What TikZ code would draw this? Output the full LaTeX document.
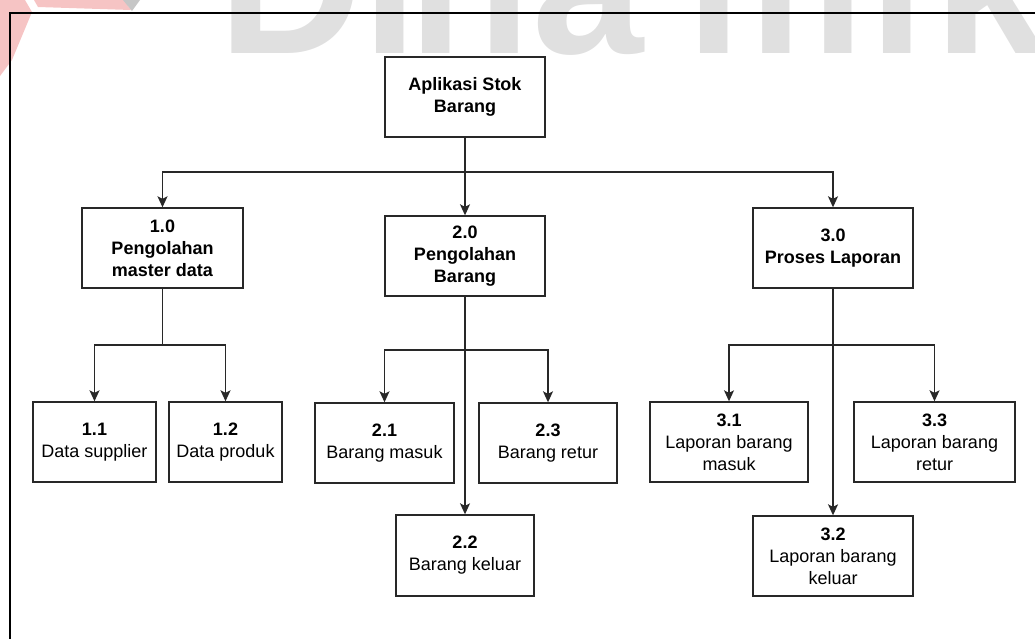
\documentclass[tikz,border=0pt]{standalone}
\usepackage{fontspec}
\setmainfont{Liberation Sans}
\usetikzlibrary{arrows.meta}
\definecolor{logored}{RGB}{246,196,196}
\definecolor{markgray}{RGB}{224,224,224}
\definecolor{edge}{RGB}{40,40,40}
\begin{document}
\begin{tikzpicture}[x=1pt,y=-1pt,
  box/.style={draw=edge, line width=1.4pt, fill=white, align=center,
    inner sep=0pt, font=\fontsize{18}{22}\selectfont},
  wire/.style={draw=edge, line width=1.4pt},
  link/.style={wire, -{Stealth[length=11pt,width=10pt,inset=2.5pt]}},
  frame/.style={draw=black, line width=2pt}]
\useasboundingbox (0,0) rectangle (1035,638);

% faint logo and lettering behind the chart
\begin{scope}
  \clip (0,0) rectangle (1035,638);
  \fill[logored] (0,0) -- (25,0) -- (32,12) -- (12,60) -- (0,76) -- cycle;
  \fill[logored] (34,0) -- (124,0) -- (131,10) -- (38,7) -- cycle;
  \fill[gray!45] (123,0) -- (140,0) -- (132,11) -- cycle;
  \foreach \ch/\xc in {D/291, i/390, n/470, a/588, m/775, i/897, k/990}
    \node[anchor=base, inner sep=0pt, text=markgray, text depth=0pt,
          font=\fontsize{200}{200}\selectfont\bfseries] at (\xc,53) {\ch};
\end{scope}

% outer frame
\draw[frame] (10,650) -- (10,13) -- (1050,13);

% level 0
\node[box, minimum width=160pt, minimum height=80pt] (root) at (465,97)
  {\textbf{Aplikasi Stok}\\\textbf{Barang}};

% level 1
\node[box, minimum width=161pt, minimum height=80pt] (n1) at (162.5,248)
  {\textbf{1.0}\\\textbf{Pengolahan}\\\textbf{master data}};
\node[box, minimum width=160pt, minimum height=80pt] (n2) at (465,256)
  {\textbf{2.0}\\\textbf{Pengolahan}\\\textbf{Barang}};
\node[box, minimum width=160pt, minimum height=80pt] (n3) at (833,248)
  {\textbf{3.0}\\\textbf{Proses Laporan}};

% level 2
\node[box, minimum width=123pt, minimum height=80pt] (n11) at (94.5,442)
  {\textbf{1.1}\\Data supplier};
\node[box, minimum width=113pt, minimum height=80pt] (n12) at (225.5,442)
  {\textbf{1.2}\\Data produk};
\node[box, minimum width=139pt, minimum height=80pt] (n21) at (384.5,443)
  {\textbf{2.1}\\Barang masuk};
\node[box, minimum width=138pt, minimum height=80pt] (n23) at (548,443)
  {\textbf{2.3}\\Barang retur};
\node[box, minimum width=138pt, minimum height=81pt] (n22) at (465,555.5)
  {\textbf{2.2}\\Barang keluar};
\node[box, minimum width=158pt, minimum height=80pt] (n31) at (729,442)
  {\textbf{3.1}\\Laporan barang\\masuk};
\node[box, minimum width=161pt, minimum height=80pt] (n33) at (934.5,442)
  {\textbf{3.3}\\Laporan barang\\retur};
\node[box, minimum width=160pt, minimum height=80pt] (n32) at (833,556)
  {\textbf{3.2}\\Laporan barang\\keluar};

% junction points of the tree
\coordinate (j0) at (465,172);
\coordinate (j1) at (162.5,345);
\coordinate (j2) at (465,350);
\coordinate (j3) at (833,345);

% connectors
\draw[wire] (root.south) -- (j0);
\draw[link] (j0) -| (n1.north);
\draw[link] (j0) -- (n2.north);
\draw[link] (j0) -| (n3.north);

\draw[wire] (n1.south) -- (j1);
\draw[link] (j1) -| (n11.north);
\draw[link] (j1) -| (n12.north);

\draw[link] (n2.south) -- (n22.north);
\draw[link] (j2) -| (n21.north);
\draw[link] (j2) -| (n23.north);

\draw[link] (n3.south) -- (n32.north);
\draw[link] (j3) -| (n31.north);
\draw[link] (j3) -| (n33.north);
\end{tikzpicture}
\end{document}
